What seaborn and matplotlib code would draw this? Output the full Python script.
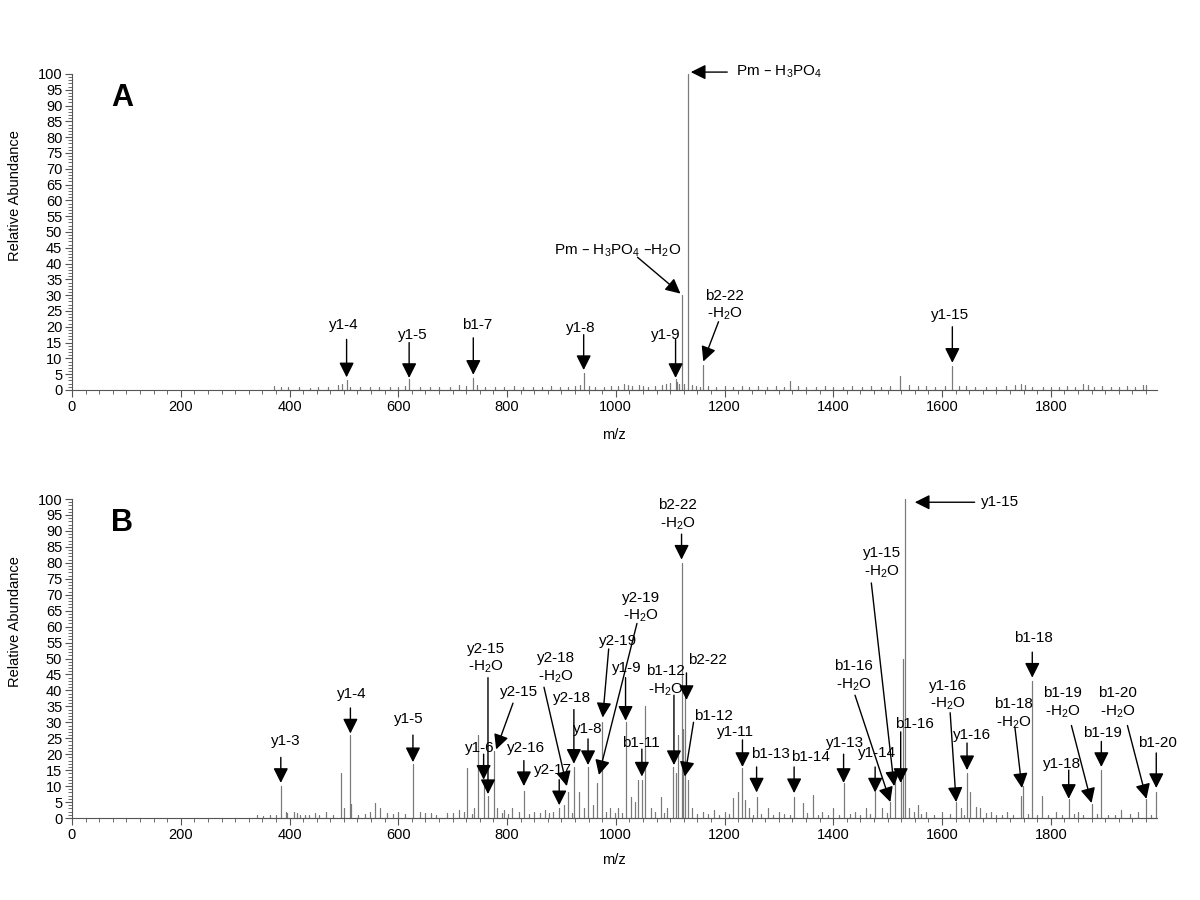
import numpy as np
import pandas as pd
import matplotlib
matplotlib.use("Agg")
import matplotlib.pyplot as plt
from matplotlib.ticker import MultipleLocator
import seaborn as sns


# ── Data ──────────────────────────────────────────────────────────────────────
# Panel A – main fragment peaks (m/z, relative abundance %)
A_PEAK_MZ  = [505, 620, 738, 941, 1110, 1121, 1132, 1161, 1320, 1523, 1619]
A_PEAK_INT = [3.0, 3.5, 3.8, 5.5, 3.5, 30, 100, 8, 2.8, 4.4, 7.5]

# Panel A – small baseline peaks
A_NOISE_MZ = [372, 385, 398, 418, 437, 452, 470, 490, 497, 512, 530, 548, 565,
              585, 600, 612, 640, 658, 675, 695, 712, 725, 745, 760, 778, 795,
              812, 830, 848, 865, 880, 897, 912, 925, 935, 950, 962, 978, 992,
              1005, 1015, 1022, 1030, 1042, 1050, 1060, 1072, 1085, 1093, 1100,
              1113, 1117, 1126, 1140, 1148, 1155, 1170, 1185, 1200, 1215, 1232,
              1245, 1262, 1278, 1295, 1310, 1335, 1350, 1368, 1385, 1400, 1418,
              1435, 1452, 1470, 1488, 1505, 1540, 1555, 1570, 1588, 1605, 1632,
              1645, 1660, 1680, 1700, 1718, 1735, 1745, 1752, 1765, 1785, 1800,
              1815, 1830, 1845, 1860, 1868, 1880, 1895, 1910, 1925, 1940, 1955,
              1970, 1976]
A_NOISE_INT = [1.2, 0.8, 0.8, 1.0, 0.7, 1.0, 0.9, 1.5, 2.0, 0.8, 1.0, 0.9, 1.0,
               1.0, 0.8, 1.2, 0.9, 1.0, 0.8, 1.0, 1.5, 1.2, 1.5, 1.0, 1.0, 0.8,
               1.2, 1.0, 0.9, 1.0, 1.3, 1.0, 0.8, 1.2, 1.5, 1.4, 1.0, 1.0, 1.2,
               1.3, 1.8, 1.5, 1.2, 1.6, 1.3, 1.0, 1.2, 1.6, 2.0, 2.2,
               2.5, 2.0, 2.0, 1.5, 1.2, 1.0, 1.2, 1.0, 1.3, 1.0, 1.2,
               1.0, 1.4, 1.0, 1.2, 1.0, 1.2, 1.0, 1.0, 1.2, 0.9, 1.0,
               1.1, 1.0, 1.2, 1.0, 1.3, 1.5, 1.1, 1.3, 1.0, 1.2, 1.4,
               1.2, 1.0, 1.0, 1.0, 1.1, 1.5, 2.0, 1.5, 1.0, 1.0, 0.9,
               1.0, 1.1, 1.0, 2.0, 1.5, 1.0, 1.2, 1.0, 1.0, 1.1, 1.0,
               1.5, 1.7]

# Panel B – main fragment peaks
B_PEAK_MZ  = [384, 393, 408, 468, 495, 501, 512, 514, 548, 558, 566, 600, 627,
              640, 712, 720, 727, 740, 746, 757, 765, 776, 782, 795, 810, 831,
              870, 896, 905, 912, 923, 932, 941, 949, 958, 965, 974, 990, 1005,
              1018, 1028, 1036, 1040, 1048, 1054, 1065, 1083, 1095, 1105, 1110,
              1115, 1121, 1124, 1128, 1132, 1140, 1180, 1216, 1224, 1233, 1238,
              1245, 1259, 1280, 1328, 1345, 1362, 1400, 1419, 1460, 1477, 1490,
              1505, 1514, 1524, 1528, 1532, 1540, 1555, 1626, 1634, 1646, 1651,
              1662, 1670, 1745, 1749, 1766, 1783, 1833, 1875, 1893, 1930, 1976,
              1994]
B_PEAK_INT = [10, 2, 2, 2, 14, 3, 26, 4.5, 2, 4.7, 3, 2, 17,
              2, 2.5, 2, 15.6, 3, 26, 10, 7, 21, 3, 2.5, 3, 8.5,
              2.5, 3, 4, 8, 16, 8, 3, 16, 4, 11, 30, 3, 3,
              30, 6.5, 5, 12, 12, 35, 3, 6.6, 3, 16, 14,
              26, 80, 28, 38, 12, 3, 2.5, 6.3, 8, 15.7, 5.6,
              3, 6.6, 3, 6.6, 4.7, 7.2, 3, 11, 3, 8, 3,
              5, 12, 12, 50, 100, 3, 4, 5, 3, 14, 8,
              3.5, 3, 7, 10, 43, 7, 6, 4.5, 15, 2.5, 6,
              8]

# Panel B – small baseline peaks
B_NOISE_MZ = [340, 352, 365, 375, 396, 413, 420, 428, 436, 446, 455, 480, 526,
              538, 580, 590, 612, 650, 660, 670, 690, 700, 735, 790, 802, 822,
              840, 850, 860, 878, 885, 920, 982, 998, 1012, 1072, 1088, 1150,
              1160, 1170, 1190, 1200, 1208, 1252, 1268, 1290, 1300, 1310, 1320,
              1352, 1372, 1380, 1390, 1410, 1430, 1440, 1450, 1468, 1498, 1548,
              1562, 1570, 1585, 1600, 1615, 1640, 1680, 1690, 1700, 1710, 1720,
              1730, 1758, 1775, 1795, 1810, 1820, 1842, 1850, 1860, 1885, 1905,
              1918, 1945, 1960, 1985]
B_NOISE_INT = [0.8, 0.7, 1.0, 0.8, 1.5, 1.5, 1.0, 1.0, 0.8, 1.5, 1.0, 0.8, 1.0,
               1.2, 1.5, 1.2, 1.2, 1.5, 1.5, 1.0, 1.5, 1.5, 1.2, 1.5, 1.2, 2.0,
               1.2, 2.0, 1.5, 1.5, 2.0, 1.5, 1.8, 1.5, 1.5, 1.8, 1.5, 1.2,
               2.0, 1.2, 1.0, 2.0, 1.2, 1.0, 1.2, 1.0, 2.0, 1.2, 1.0,
               1.5, 1.0, 2.0, 1.0, 1.0, 1.2, 2.0, 1.0, 1.2, 1.5, 1.8,
               1.2, 2.0, 1.0, 2.0, 1.2, 1.0, 1.5, 2.0, 1.0, 1.0, 2.0,
               1.0, 1.2, 1.0, 1.0, 2.0, 1.0, 1.2, 2.0, 1.0, 1.2, 1.0,
               1.0, 1.2, 2.0, 1.0]

X_TICKS = list(range(0, 1801, 200))
Y_TICKS = list(range(0, 101, 5))

H2O = "-H$_2$O"

# ── Annotations: labels and their geometry (tip, tail, text pos, align) ───────
A_LABELS = ["y1-4", "y1-5", "b1-7", "y1-8", "y1-9",
            "Pm – H$_3$PO$_4$ –H$_2$O", "b2-22\n" + H2O,
            "Pm – H$_3$PO$_4$", "y1-15"]
A_GEOM = [
    ((505, 4.0),   (505, 16.0),   (499, 20.5),   "center"),
    ((620, 3.8),   (620, 15.0),   (627, 17.5),   "center"),
    ((738, 4.8),   (738, 16.5),   (746, 20.6),   "center"),
    ((941, 6.3),   (941, 17.5),   (936, 19.7),   "center"),
    ((1110, 3.8),  (1110, 16.0),  (1092, 17.5),  "center"),
    ((1119, 30.5), (1040, 42.0),  (1004, 44.0),  "center"),
    ((1161, 9.0),  (1189, 21.6),  (1200, 26.7),  "center"),
    ((1138, 100.6), (1205, 100.6), (1222, 100.6), "left"),
    ((1619, 8.6),  (1619, 20.0),  (1615, 23.8),  "center"),
]

B_LABELS = ["y1-3", "y1-4", "y1-5", "y1-6", "y2-15\n" + H2O, "y2-15",
            "y2-16", "y2-17", "y2-18\n" + H2O, "y2-18", "y1-8", "y2-19",
            "y2-19\n" + H2O, "y1-9", "b1-11", "b1-12\n" + H2O,
            "b2-22\n" + H2O, "b2-22", "b1-12", "y1-11", "b1-13", "b1-14",
            "y1-13", "y1-14", "b1-16\n" + H2O, "y1-15\n" + H2O, "b1-16",
            "y1-15", "y1-16\n" + H2O, "y1-16", "b1-18\n" + H2O, "b1-18",
            "y1-18", "b1-19\n" + H2O, "b1-19", "b1-20\n" + H2O, "b1-20"]
B_GEOM = [
    ((384, 11.0),  (384, 19.0),  (394, 24.0),  "center"),
    ((512, 26.5),  (512, 34.5),  (514, 39.0),  "center"),
    ((627, 17.5),  (627, 26.0),  (620, 31.0),  "center"),
    ((757, 12.0),  (757, 20.0),  (749, 22.0),  "center"),
    ((765, 7.5),   (765, 44.0),  (761, 50.0),  "center"),
    ((780, 21.5),  (811, 36.0),  (822, 39.5),  "center"),
    ((831, 10.0),  (831, 18.0),  (835, 22.0),  "center"),
    ((896, 4.0),   (896, 12.0),  (884, 15.0),  "center"),
    ((910, 10.0),  (868, 41.0),  (890, 47.0),  "center"),
    ((923, 17.0),  (923, 34.0),  (919, 37.6),  "center"),
    ((949, 16.6),  (949, 24.8),  (949, 28.0),  "center"),
    ((976, 31.5),  (987, 53.0),  (1004, 55.5), "center"),
    ((969, 13.5),  (1039, 61.0), (1046, 66.0), "center"),
    ((1018, 30.5), (1018, 44.0), (1020, 47.0), "center"),
    ((1048, 13.0), (1048, 21.6), (1046, 23.5), "center"),
    ((1107, 16.6), (1107, 38.5), (1092, 43.0), "center"),
    ((1121, 81.0), (1121, 89.0), (1114, 95.0), "center"),
    ((1130, 37.0), (1130, 45.5), (1169, 49.5), "center"),
    ((1127, 13.0), (1143, 30.0), (1180, 32.0), "center"),
    ((1233, 16.0), (1233, 24.5), (1220, 27.0), "center"),
    ((1259, 8.0),  (1259, 16.0), (1284, 20.0), "center"),
    ((1328, 7.8),  (1328, 16.0), (1358, 19.0), "center"),
    ((1419, 11.0), (1419, 20.0), (1422, 23.5), "center"),
    ((1477, 8.0),  (1477, 16.0), (1481, 20.4), "center"),
    ((1505, 5.0),  (1440, 38.5), (1437, 44.5), "center"),
    ((1512, 10.0), (1470, 73.7), (1490, 80.0), "center"),
    ((1524, 11.0), (1524, 27.0), (1550, 29.5), "center"),
    ((1550, 99.0), (1660, 99.0), (1672, 99.0), "left"),
    ((1626, 5.0),  (1615, 33.0), (1611, 38.5), "center"),
    ((1646, 15.0), (1646, 23.5), (1655, 26.0), "center"),
    ((1747, 9.4),  (1734, 28.5), (1732, 32.6), "center"),
    ((1766, 44.0), (1766, 52.0), (1769, 56.4), "center"),
    ((1833, 6.0),  (1833, 15.0), (1820, 17.0), "center"),
    ((1875, 4.7),  (1838, 29.0), (1822, 36.0), "center"),
    ((1893, 16.0), (1893, 24.0), (1895, 26.6), "center"),
    ((1976, 6.0),  (1941, 29.0), (1923, 36.0), "center"),
    ((1994, 9.4),  (1994, 20.4), (1996, 23.5), "center"),
]

SPEC_COLOR = "#7a7a7a"
AXIS_COLOR = "#555555"


# ── Helpers ───────────────────────────────────────────────────────────────────
def stick_frame(mz_lists, int_lists):
    """Turn peak lists into a single zig-zag trace (0 -> h -> 0 per peak)."""
    mz = np.concatenate([np.asarray(m, float) for m in mz_lists])
    ab = np.concatenate([np.asarray(a, float) for a in int_lists])
    order = np.argsort(mz, kind="stable")
    xs, ys = [], []
    for i in order:
        xs += [mz[i], mz[i], mz[i]]
        ys += [0.0, ab[i], 0.0]
    return pd.DataFrame({"mz": xs, "abundance": ys})


def draw_panel(ax, df, labels, geom, letter, xlabel_y):
    sns.lineplot(data=df, x="mz", y="abundance", sort=False, estimator=None,
                 color=SPEC_COLOR, lw=0.8, ax=ax)
    for ln in ax.lines:
        ln.set_clip_on(False)

    ax.set_xlim(0, 1995)
    ax.set_ylim(0, 100)
    ax.set_xticks(X_TICKS)
    ax.set_yticks(Y_TICKS)
    ax.xaxis.set_minor_locator(MultipleLocator(25))
    ax.yaxis.set_minor_locator(MultipleLocator(1))
    ax.tick_params(which="major", length=5, width=0.8, color=AXIS_COLOR,
                   labelsize=10.5, labelcolor="black", pad=2)
    ax.tick_params(which="minor", length=3, width=0.6, color=AXIS_COLOR)
    sns.despine(ax=ax)
    for side in ("left", "bottom"):
        ax.spines[side].set_color(AXIS_COLOR)
        ax.spines[side].set_linewidth(0.8)

    ax.set_xlabel("m/z", fontsize=10.5, color="black")
    ax.set_ylabel("Relative Abundance", fontsize=10.5, color="black")
    ax.xaxis.set_label_coords(0.5, xlabel_y)
    ax.yaxis.set_label_coords(-0.046, 0.615)

    ax.text(92, 92.5, letter, fontsize=22, fontweight="bold",
            color="black", ha="center", va="center")

    for lab, (tip, tail, txt, ha) in zip(labels, geom):
        ax.annotate("", xy=tip, xytext=tail, annotation_clip=False,
                    arrowprops=dict(arrowstyle="-|>,head_length=0.9,head_width=0.45",
                                    mutation_scale=10, color="black", lw=1.0,
                                    shrinkA=0, shrinkB=0))
        ax.text(txt[0], txt[1], lab, ha=ha, va="center", fontsize=11,
                color="black", linespacing=1.25, clip_on=False)


# ── Figure ────────────────────────────────────────────────────────────────────
sns.set_theme(style="ticks")
plt.rcParams["font.family"] = ["Liberation Sans", "DejaVu Sans"]
plt.rcParams["mathtext.default"] = "regular"
plt.rcParams["text.color"] = "black"

fig = plt.figure(figsize=(12, 9), dpi=100)
ax_a = fig.add_axes([0.06, 0.5667, 0.904, 0.3511])
ax_b = fig.add_axes([0.06, 0.0911, 0.904, 0.3544])

df_a = stick_frame([A_PEAK_MZ, A_NOISE_MZ], [A_PEAK_INT, A_NOISE_INT])
df_b = stick_frame([B_PEAK_MZ, B_NOISE_MZ], [B_PEAK_INT, B_NOISE_INT])

draw_panel(ax_a, df_a, A_LABELS, A_GEOM, "A", -0.12)
draw_panel(ax_b, df_b, B_LABELS, B_GEOM, "B", -0.11)

fig.savefig("out.png", dpi=100)
plt.close(fig)
